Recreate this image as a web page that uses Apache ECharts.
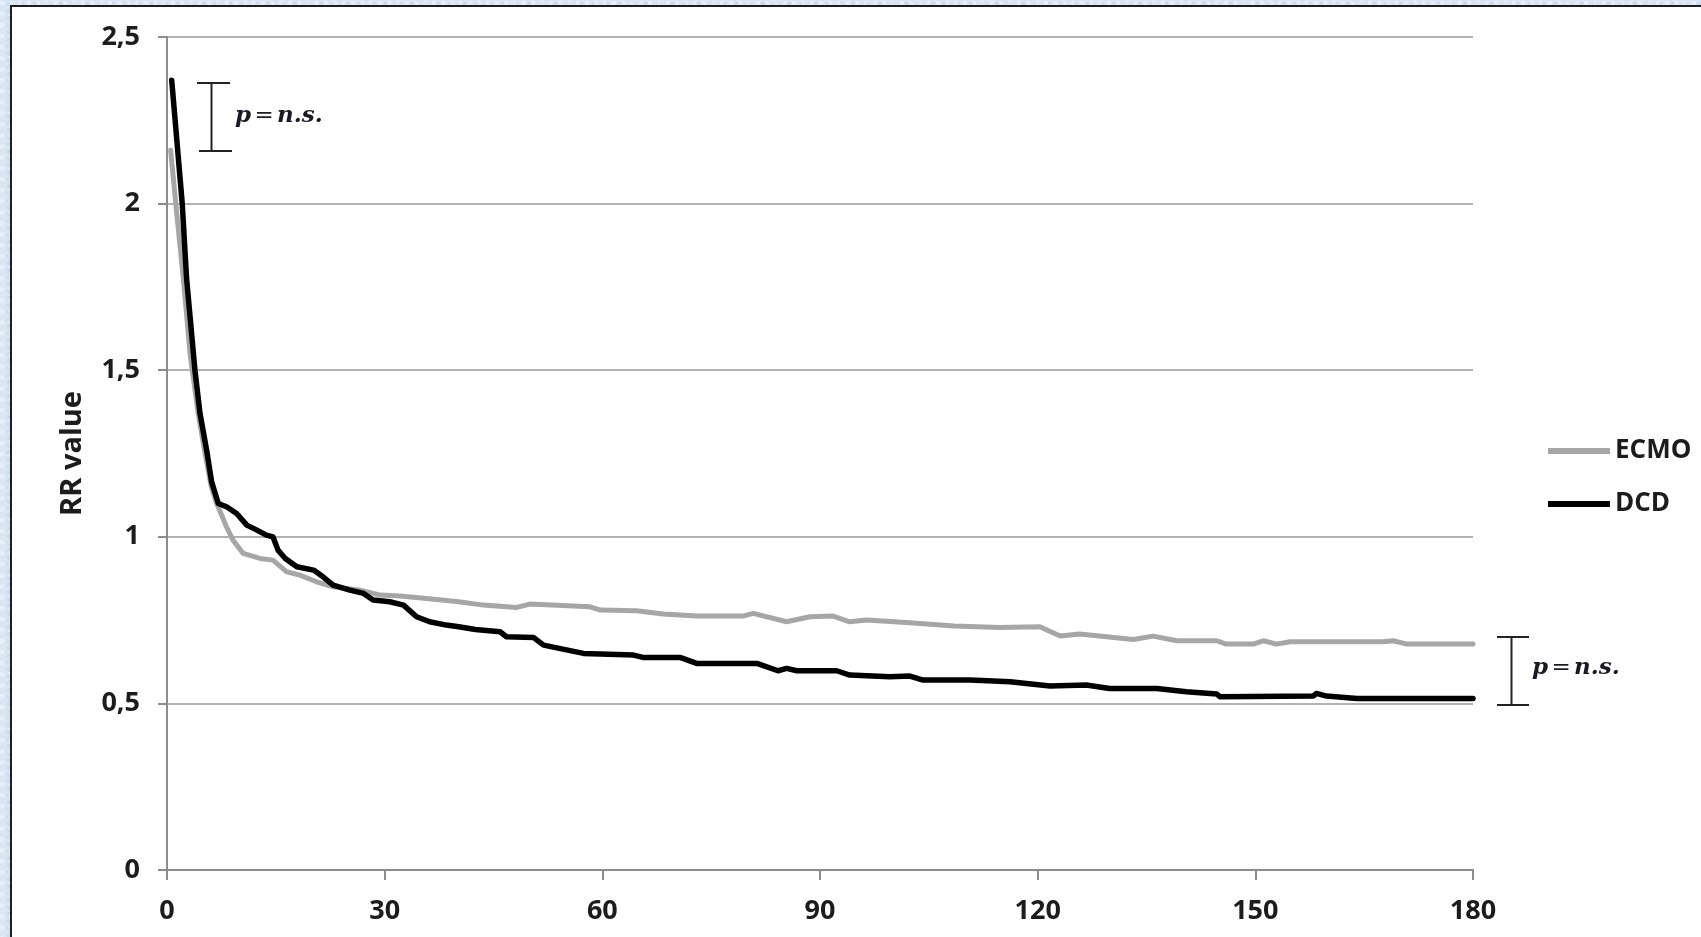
<!doctype html>
<html lang="en">
  <head>
    <meta charset="UTF-8" />
    <title>RR value ECMO vs DCD</title>
    <style>
      html, body { margin: 0; padding: 0; }
      body {
        width: 1701px;
        height: 937px;
        overflow: hidden;
        position: relative;
        background: #d8e5f3;
        background-image:
          radial-gradient(circle at 20% 30%, rgba(255,255,255,0.35) 0 2px, transparent 3px),
          radial-gradient(circle at 70% 60%, rgba(190,210,235,0.5) 0 2px, transparent 3px);
        background-size: 9px 11px, 13px 7px;
      }
      #panel {
        position: absolute;
        left: 10px;
        top: 5px;
        width: 1700px;
        height: 940px;
        background: #fff;
        border-left: 2px solid #1e1e1e;
        border-top: 2px solid #1e1e1e;
      }
      #chart1 { position: absolute; left: 0; top: 0; width: 1701px; height: 937px; }
    </style>
  </head>
  <body>
    <div id="panel"></div>
    <div id="chart1"></div>
    <script src="https://cdn.jsdelivr.net/npm/echarts@6/dist/echarts.min.js"></script>
    <script>
      // values (days, RR value)
      const ecmoDays = [0.5, 1.3, 2.25, 3.2, 4.3, 5.25, 6.1, 6.85, 8.2, 9.1, 10.5, 12.8, 14.6, 16.5, 18.3, 20.6, 22.9, 26.6, 29.4, 32.1, 35.8, 40.2, 43.6, 48.2, 50, 58.3, 59.7, 64.7, 68.4, 73, 79.4, 80.8, 85.4, 88.6, 91.8, 94.1, 96.4, 102.4, 108.5, 114.8, 120.3, 123.1, 125.8, 133.2, 135.9, 139.2, 144.7, 146, 149.7, 151.1, 152.9, 154.8, 167.6, 169, 170.9, 180];
      const ecmoRR = [2.16, 1.98, 1.775, 1.545, 1.37, 1.25, 1.15, 1.1, 1.03, 0.99, 0.95, 0.935, 0.93, 0.895, 0.885, 0.865, 0.85, 0.84, 0.825, 0.822, 0.815, 0.805, 0.795, 0.788, 0.798, 0.79, 0.78, 0.778, 0.768, 0.762, 0.762, 0.77, 0.745, 0.76, 0.762, 0.745, 0.75, 0.742, 0.732, 0.728, 0.73, 0.702, 0.708, 0.692, 0.702, 0.688, 0.688, 0.678, 0.678, 0.688, 0.678, 0.685, 0.685, 0.688, 0.678, 0.678];

      const dcdDays = [0.65, 2.1, 2.7, 3.85, 4.55, 5.5, 6.15, 7.07, 8.2, 9.6, 11, 12.4, 13.7, 14.6, 15.3, 16.3, 17.9, 20.2, 21.5, 22.9, 25.2, 27.1, 28.4, 30.7, 32.6, 34.4, 36.2, 38.5, 40.2, 42.5, 45.9, 46.8, 50.5, 51.9, 57.4, 64.3, 65.6, 70.7, 73, 81.3, 84.2, 85.4, 86.8, 92.3, 94.1, 99.6, 102.4, 104.2, 110.7, 116.2, 121.7, 126.7, 129.9, 136.4, 140.5, 144.7, 145.1, 158, 158.4, 159.8, 164, 180];
      const dcdRR = [2.37, 2.0, 1.775, 1.5, 1.37, 1.255, 1.165, 1.1, 1.09, 1.07, 1.035, 1.02, 1.005, 1.0, 0.96, 0.935, 0.91, 0.9, 0.88, 0.855, 0.84, 0.83, 0.81, 0.805, 0.795, 0.76, 0.745, 0.735, 0.73, 0.722, 0.715, 0.7, 0.698, 0.675, 0.65, 0.645, 0.638, 0.638, 0.62, 0.62, 0.598, 0.605, 0.598, 0.598, 0.585, 0.58, 0.582, 0.57, 0.57, 0.565, 0.552, 0.555, 0.545, 0.545, 0.535, 0.528, 0.52, 0.522, 0.53, 0.522, 0.515, 0.515];

      const seriesNames = ["ECMO", "DCD"];

      const pairs = (xs, ys) => xs.map((x, i) => [x, ys[i]]);

      const labelFont = {
        fontFamily: "'Open Sans', 'Noto Sans', sans-serif",
        fontWeight: "bold",
        fontSize: 27,
        color: "#1c1c1c",
      };
      const serif = "'DejaVu Serif', serif";
      const pStyle = {
        i: { fontFamily: serif, fontStyle: "italic", fontWeight: "bold", fontSize: 23, fill: "#1a1a24" },
        n: { fontFamily: serif, fontSize: 23, fill: "#1a1a24" },
        b: { fontFamily: serif, fontStyle: "italic", fontWeight: "bold", fontSize: 23, fill: "#1a1a24" },
      };

      const myChart = echarts.init(document.querySelector("#chart1"));

      const option = {
        backgroundColor: "transparent",
        animation: false,
        textStyle: { fontFamily: "'Open Sans', sans-serif" },
        grid: { left: 167, right: 228, top: 37, bottom: 67 },
        legend: {
          data: seriesNames,
          orient: "vertical",
          left: 1543,
          top: 430,
          icon: "rect",
          itemWidth: 62,
          itemHeight: 6,
          itemGap: 21,
          textStyle: Object.assign({}, labelFont, { fontSize: 26, lineHeight: 32 }),
        },
        xAxis: {
          type: "value",
          min: 0,
          max: 180,
          interval: 30,
          axisLine: { show: true, lineStyle: { color: "#8c8c8c", width: 2 } },
          axisTick: { show: true, length: 10, lineStyle: { color: "#8c8c8c", width: 2 } },
          splitLine: { show: false },
          axisLabel: Object.assign({}, labelFont, { margin: 28 }),
        },
        yAxis: {
          type: "value",
          min: 0,
          max: 2.5,
          interval: 0.5,
          name: "RR value",
          nameLocation: "middle",
          nameGap: 80,
          nameTextStyle: Object.assign({}, labelFont, { fontSize: 29 }),
          axisLine: { show: true, lineStyle: { color: "#8c8c8c", width: 2 } },
          axisTick: { show: true, length: 9, lineStyle: { color: "#8c8c8c", width: 2 } },
          splitLine: { show: true, lineStyle: { color: "#999", width: 1.5 } },
          axisLabel: Object.assign({}, labelFont, {
            margin: 27,
            formatter: (v) => String(v).replace(".", ","),
          }),
        },
        series: [
          {
            name: "ECMO",
            type: "line",
            showSymbol: false,
            color: "#a6a6a6",
            lineStyle: { width: 5, color: "#a6a6a6", cap: "round", join: "round" },
            data: pairs(ecmoDays, ecmoRR),
          },
          {
            name: "DCD",
            type: "line",
            showSymbol: false,
            color: "#000",
            lineStyle: { width: 5.5, color: "#000", cap: "round", join: "round" },
            data: pairs(dcdDays, dcdRR),
          },
        ],
        graphic: [
          // top bracket
          { type: "line", shape: { x1: 211.5, y1: 83, x2: 211.5, y2: 151 }, style: { stroke: "#222", lineWidth: 2 } },
          { type: "line", shape: { x1: 197, y1: 83, x2: 230, y2: 83 }, style: { stroke: "#222", lineWidth: 2 } },
          { type: "line", shape: { x1: 199, y1: 151, x2: 232, y2: 151 }, style: { stroke: "#222", lineWidth: 2 } },
          {
            type: "text",
            left: 235,
            top: 105,
            style: { text: "{i|p} {n|=} {b|n.s.}", rich: pStyle },
          },
          // right bracket
          { type: "line", shape: { x1: 1511.5, y1: 637, x2: 1511.5, y2: 705 }, style: { stroke: "#222", lineWidth: 2 } },
          { type: "line", shape: { x1: 1497, y1: 637, x2: 1529, y2: 637 }, style: { stroke: "#222", lineWidth: 2 } },
          { type: "line", shape: { x1: 1497, y1: 705, x2: 1529, y2: 705 }, style: { stroke: "#222", lineWidth: 2 } },
          {
            type: "text",
            left: 1532,
            top: 657,
            style: { text: "{i|p} {n|=} {b|n.s.}", rich: pStyle },
          },
        ],
      };

      myChart.setOption(option);
    </script>
  </body>
</html>
